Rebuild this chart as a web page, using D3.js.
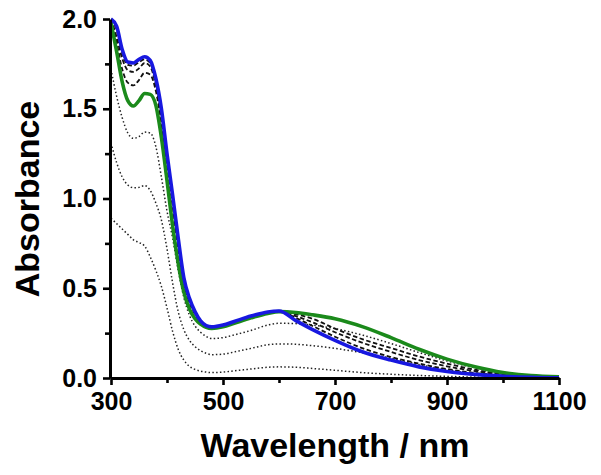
<!DOCTYPE html>
<html><head><meta charset="utf-8">
<script src="https://cdn.jsdelivr.net/npm/d3@7"></script>
<style>
html,body{margin:0;padding:0;background:#fff;}
svg{display:block;}
text{font-family:"Liberation Sans",Arial,sans-serif;font-weight:bold;fill:#000;}
</style></head>
<body>
<svg id="chart" width="601" height="475"></svg>
<script>
const wavelength = [300,310,320,330,340,350,360,370,380,390,400,410,420,430,440,450,460,470,480,500,520,550,580,600,630,660,700,750,800,850,900,950,1000,1050,1100];

const dotted1 = [1.72,1.57,1.45,1.365,1.335,1.345,1.37,1.365,1.29,1.12,0.93,0.78,0.60,0.45,0.35,0.29,0.255,0.232,0.22,0.225,0.24,0.265,0.295,0.305,0.303,0.295,0.275,0.238,0.192,0.142,0.095,0.057,0.027,0.011,0.004];
const dotted2 = [1.31,1.20,1.12,1.075,1.06,1.062,1.072,1.045,0.975,0.88,0.72,0.53,0.37,0.27,0.21,0.175,0.152,0.138,0.13,0.133,0.145,0.165,0.185,0.19,0.188,0.18,0.165,0.14,0.11,0.075,0.045,0.025,0.012,0.005,0.002];
const dotted3 = [0.89,0.86,0.83,0.80,0.77,0.755,0.735,0.675,0.60,0.51,0.39,0.26,0.16,0.10,0.065,0.048,0.038,0.033,0.03,0.033,0.04,0.05,0.06,0.062,0.06,0.053,0.043,0.03,0.021,0.014,0.009,0.005,0.003,0.001,0.0];
const dashed1 = [2.0,1.90,1.78,1.715,1.705,1.725,1.755,1.735,1.63,1.45,1.21,0.98,0.74,0.54,0.43,0.36,0.312,0.288,0.281,0.291,0.311,0.341,0.365,0.373,0.345,0.31,0.255,0.195,0.145,0.10,0.065,0.038,0.019,0.008,0.003];
const dashed2 = [2.0,1.87,1.72,1.645,1.63,1.66,1.70,1.69,1.60,1.42,1.19,0.96,0.72,0.53,0.42,0.355,0.31,0.286,0.28,0.29,0.31,0.34,0.365,0.373,0.355,0.33,0.275,0.215,0.167,0.12,0.08,0.046,0.022,0.01,0.004];
const dashed3 = [2.0,1.94,1.81,1.745,1.74,1.76,1.775,1.755,1.65,1.47,1.23,1.0,0.76,0.55,0.44,0.365,0.315,0.29,0.283,0.293,0.313,0.343,0.366,0.374,0.335,0.29,0.23,0.165,0.117,0.08,0.05,0.028,0.014,0.006,0.002];
const greenSeries = [1.98,1.82,1.65,1.545,1.515,1.545,1.585,1.58,1.52,1.34,1.10,0.85,0.64,0.48,0.385,0.33,0.30,0.282,0.276,0.285,0.305,0.335,0.36,0.37,0.365,0.352,0.33,0.285,0.225,0.16,0.105,0.062,0.03,0.013,0.006];
const blueSeries = [2.0,1.96,1.83,1.76,1.755,1.775,1.79,1.77,1.67,1.50,1.25,1.02,0.78,0.56,0.445,0.37,0.318,0.292,0.285,0.295,0.315,0.345,0.368,0.373,0.32,0.27,0.21,0.145,0.10,0.062,0.036,0.02,0.01,0.004,0.001];

const xTicks = [300,500,700,900,1100];
const xMinor = [400,600,800,1000];
const yTicks = [0.0,0.5,1.0,1.5,2.0];
const yMinor = [0.25,0.75,1.25,1.75];

const svg = d3.select("#chart");
const x = d3.scaleLinear().domain([300,1100]).range([111,559]);
const y = d3.scaleLinear().domain([0,2]).range([378,19]);

svg.append("defs").append("clipPath").attr("id","clip")
  .append("rect").attr("x",111).attr("y",14).attr("width",452).attr("height",366);

const line = d3.line().x((d,i)=>x(wavelength[i])).y(d=>y(d)).curve(d3.curveMonotoneX);

const g = svg.append("g").attr("clip-path","url(#clip)");
const series = [
  {v:dotted3, c:"#222", w:1.5, dash:"1.5,2.3"},
  {v:dotted2, c:"#222", w:1.5, dash:"1.5,2.3"},
  {v:dotted1, c:"#222", w:1.5, dash:"1.5,2.3"},
  {v:dashed2, c:"#111", w:1.8, dash:"4.5,2.5"},
  {v:dashed1, c:"#111", w:1.8, dash:"4.5,2.5"},
  {v:dashed3, c:"#111", w:1.8, dash:"4.5,2.5"},
  {v:greenSeries, c:"#1b8a1b", w:3.6, dash:null},
  {v:blueSeries, c:"#1818e0", w:3.6, dash:null}
];
series.forEach(s=>{
  g.append("path").datum(s.v).attr("d",line)
    .attr("fill","none").attr("stroke",s.c).attr("stroke-width",s.w)
    .attr("stroke-dasharray",s.dash).attr("stroke-linejoin","round");
});

function styleAxis(sel){
  sel.select(".domain").attr("stroke","#000").attr("stroke-width",3);
  sel.selectAll(".tick line").attr("stroke","#000").attr("stroke-width",2.6);
  sel.selectAll("text").style("font-size","25px").style("font-family","'Liberation Sans',Arial,sans-serif").style("font-weight","bold").attr("fill","#000");
}

const xAxis = svg.append("g").attr("transform","translate(0,378)")
  .call(d3.axisBottom(x).tickValues(xTicks).tickSize(7).tickSizeOuter(0).tickPadding(7).tickFormat(d3.format("d")));
styleAxis(xAxis);
const xAxisMinor = svg.append("g").attr("transform","translate(0,378)")
  .call(d3.axisBottom(x).tickValues(xMinor).tickSize(5).tickSizeOuter(0).tickFormat(""));
xAxisMinor.select(".domain").remove();
xAxisMinor.selectAll(".tick line").attr("stroke","#000").attr("stroke-width",2.6);

const yAxis = svg.append("g").attr("transform","translate(110,0)")
  .call(d3.axisLeft(y).tickValues(yTicks).tickSize(7).tickSizeOuter(0).tickPadding(6).tickFormat(d3.format(".1f")));
styleAxis(yAxis);
const yAxisMinor = svg.append("g").attr("transform","translate(110,0)")
  .call(d3.axisLeft(y).tickValues(yMinor).tickSize(5).tickSizeOuter(0).tickFormat(""));
yAxisMinor.select(".domain").remove();
yAxisMinor.selectAll(".tick line").attr("stroke","#000").attr("stroke-width",2.6);

svg.append("text").attr("x",335).attr("y",457).attr("text-anchor","middle")
  .style("font-size","34px").text("Wavelength / nm");
svg.append("text").attr("transform","translate(39,199) rotate(-90)").attr("text-anchor","middle")
  .style("font-size","34px").text("Absorbance");
</script>
</body></html>
